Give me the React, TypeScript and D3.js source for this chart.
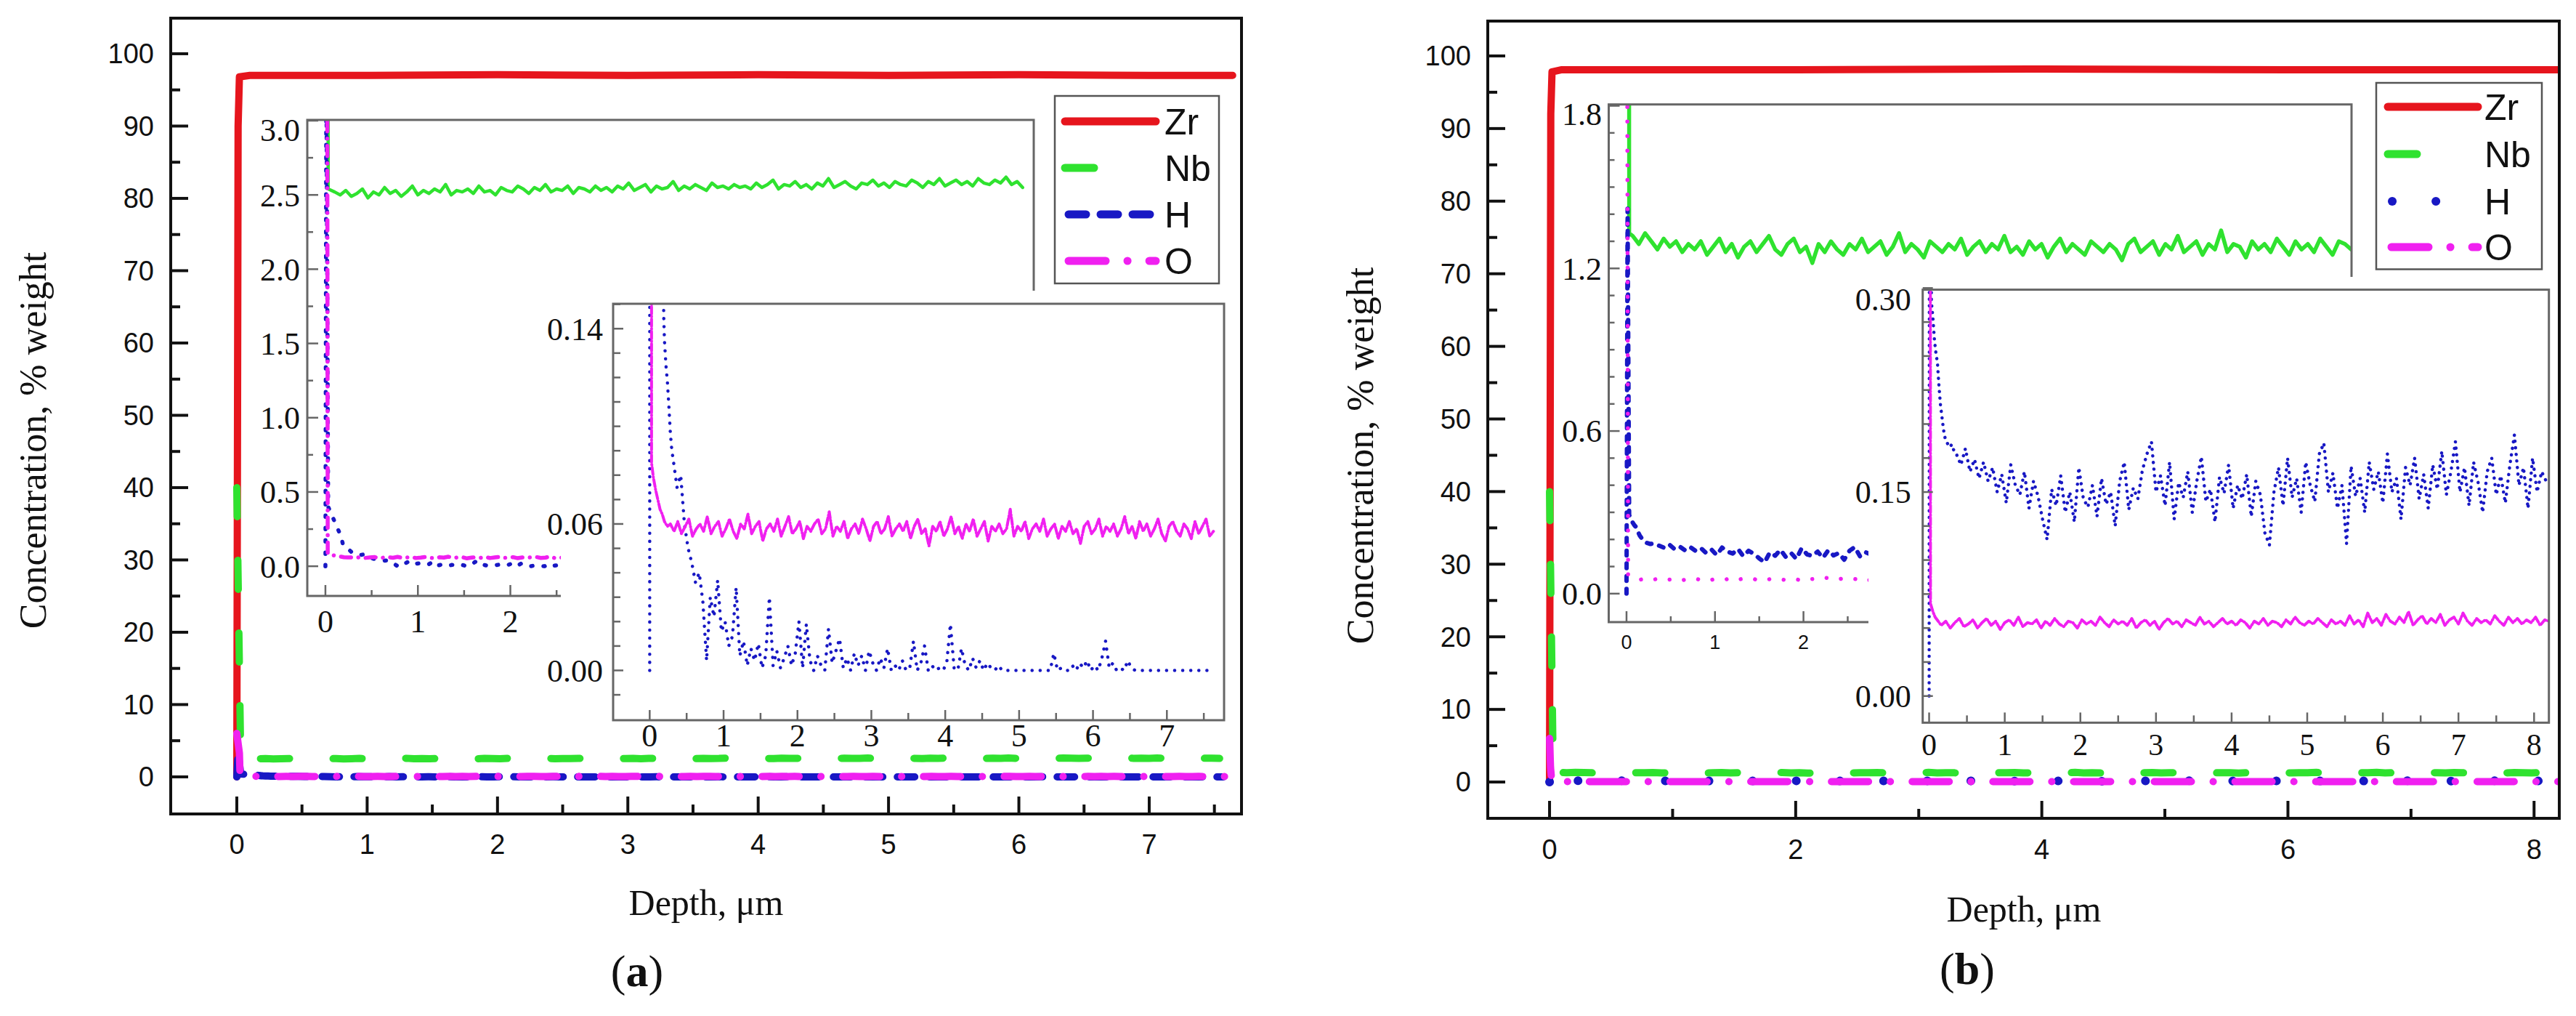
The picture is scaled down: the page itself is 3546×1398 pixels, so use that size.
import React from 'react';
import * as d3 from 'd3';

type Pt = [number, number];

const RED = '#e6151d';
const GREEN = '#2fe22f';
const BLUE = '#1818c4';
const MAGENTA = '#f020f0';
const SANS = '"Liberation Sans", Arial, Helvetica, sans-serif';
const SERIF = '"Liberation Serif", "Times New Roman", Times, serif';

const elements = ['Zr', 'Nb', 'H', 'O'];

// depth profile = a few hand-read points near the surface + values read at a fixed depth step
const series = (head: Pt[], start: number, step: number, vals: number[]): Pt[] => [
  ...head,
  ...vals.map((v, i): Pt => [start + i * step, v]),
];

// ---------- sample (a) ----------
const zrA: Pt[] = [
  [0, 0], [0.01, 90], [0.02, 96.8], [0.1, 97.0], [1, 97.0], [2, 97.1], [3, 97.0],
  [4, 97.1], [5, 97.0], [6, 97.1], [7, 97.0], [7.64, 97.0],
];
const nbHeadA: Pt[] = [[0, 40], [0.03, 2.54]];
const nbValsA = [ // from 0.10 um, step 0.06 um
  2.52, 2.50, 2.53, 2.49, 2.51, 2.54, 2.48, 2.52, 2.50, 2.55, 2.51, 2.53, 2.49, 2.52, 2.56, 2.50,
  2.53, 2.51, 2.54, 2.52, 2.57, 2.50, 2.53, 2.52,
  2.54, 2.51, 2.56, 2.52, 2.53, 2.50, 2.55, 2.53, 2.52, 2.56, 2.54, 2.51, 2.55, 2.53, 2.57, 2.52,
  2.54, 2.53, 2.56, 2.51, 2.55, 2.54, 2.52, 2.56, 2.53,
  2.55, 2.52, 2.56, 2.54, 2.58, 2.53, 2.55, 2.57, 2.52, 2.56, 2.54, 2.55, 2.59, 2.53, 2.56, 2.54,
  2.57, 2.55, 2.53, 2.58, 2.55, 2.56, 2.54, 2.57, 2.55,
  2.56, 2.54, 2.58, 2.55, 2.57, 2.60, 2.54, 2.57, 2.56, 2.59, 2.55, 2.57, 2.54, 2.58, 2.56, 2.61,
  2.55, 2.57, 2.59, 2.56, 2.54, 2.58, 2.57, 2.60, 2.56,
  2.58, 2.55, 2.59, 2.57, 2.56, 2.60, 2.58, 2.55, 2.59, 2.57, 2.61, 2.56, 2.58, 2.60, 2.57, 2.59,
  2.56, 2.61, 2.58, 2.57, 2.60, 2.58, 2.62, 2.57, 2.59, 2.55,
];
const hHeadA: Pt[] = [
  [0, 0], [0.01, 3.4], [0.03, 0.4], [0.17, 0.2], [0.19, 0.145], [0.2, 0.135], [0.22, 0.125],
  [0.24, 0.118], [0.26, 0.108], [0.28, 0.097], [0.3, 0.09],
];
const hValsA = [ // from 0.32 um, step 0.05 um
  0.086, 0.075, 0.080, 0.060, 0.050, 0.044, 0.036, 0.040, 0.028, 0.004,
  0.030, 0.022, 0.037, 0.016, 0.020, 0.010, 0.014, 0.034, 0.006, 0.012,
  0.002, 0.009, 0.004, 0.011, 0.001, 0.006, 0.030, 0.002, 0.008, 0.001,
  0.005, 0.010, 0.002, 0.007, 0.020, 0.001, 0.019, 0.004, 0.000, 0.006,
  0.002, 0.000, 0.017, 0.003, 0.008, 0.013, 0.001, 0.005, 0.000, 0.007,
  0.002, 0.006, 0.000, 0.008, 0.003, 0.000, 0.005, 0.001, 0.009, 0.000,
  0.002, 0.000, 0.004, 0.000, 0.001, 0.012, 0.000, 0.003, 0.010, 0.000,
  0.002, 0.000, 0.001, 0.000, 0.003, 0.019, 0.001, 0.000, 0.009, 0.002,
  0.000, 0.005, 0.001, 0.004, 0.000, 0.003, 0.001, 0.000, 0.002, 0.000,
  0, 0, 0, 0, 0, 0, 0, 0, 0, 0,
  0.000, 0.000, 0.000, 0.007, 0.000, 0.001, 0.000, 0.000, 0.002, 0.000,
  0.003, 0.001, 0.004, 0.000, 0.002, 0.000, 0.005, 0.012, 0.001, 0.003,
  0.000, 0.001, 0.000, 0.004, 0.001, 0.000, 0.000, 0.000, 0.000, 0.000,
  0, 0, 0, 0, 0, 0, 0, 0, 0, 0,
  0, 0, 0, 0, 0, 0,
];
const oHeadA: Pt[] = [
  [0, 6], [0.02, 3.3], [0.025, 0.085], [0.05, 0.079], [0.08, 0.074], [0.11, 0.07], [0.14, 0.066],
  [0.17, 0.064], [0.2, 0.061], [0.24, 0.059],
];
const oValsA = [ // from 0.28 um, step 0.05 um
  0.060, 0.057, 0.061, 0.056, 0.059, 0.062, 0.055, 0.058, 0.060, 0.057,
  0.063, 0.056, 0.059, 0.061, 0.055, 0.058, 0.062, 0.057, 0.054, 0.060,
  0.058, 0.064, 0.056, 0.059, 0.061, 0.053, 0.058, 0.060, 0.057, 0.062,
  0.055, 0.059, 0.063, 0.056, 0.058, 0.061, 0.054, 0.059, 0.057, 0.060,
  0.062, 0.056, 0.058, 0.065, 0.055, 0.059, 0.057, 0.061, 0.054, 0.058,
  0.060, 0.056, 0.062, 0.058, 0.053, 0.059, 0.061, 0.056, 0.058, 0.063,
  0.055, 0.058, 0.060, 0.057, 0.061, 0.054, 0.059, 0.062, 0.056, 0.058,
  0.051, 0.059, 0.057, 0.061, 0.055, 0.058, 0.063, 0.056, 0.059, 0.054,
  0.060, 0.057, 0.062, 0.055, 0.058, 0.061, 0.053, 0.059, 0.057, 0.060,
  0.056, 0.058, 0.066, 0.055, 0.059, 0.057, 0.061, 0.054, 0.058, 0.060,
  0.057, 0.062, 0.055, 0.058, 0.060, 0.054, 0.059, 0.057, 0.061, 0.056,
  0.058, 0.052, 0.059, 0.061, 0.056, 0.058, 0.062, 0.055, 0.059, 0.057,
  0.060, 0.055, 0.058, 0.063, 0.056, 0.059, 0.054, 0.061, 0.057, 0.060,
  0.055, 0.058, 0.062, 0.056, 0.053, 0.059, 0.061, 0.057, 0.055, 0.060,
  0.058, 0.054, 0.061, 0.056, 0.059, 0.062, 0.055, 0.057,
];

// ---------- sample (b) ----------
const zrB: Pt[] = [
  [0, 0], [0.01, 92], [0.02, 97.8], [0.1, 98.1], [2, 98.1], [4, 98.2], [6, 98.1], [8.2, 98.1],
];
const nbHeadB: Pt[] = [[0, 40], [0.03, 1.33]];
const nbValsB = [ // from 0.07 um, step 0.07 um
  1.32, 1.29, 1.33, 1.30, 1.27, 1.31, 1.28, 1.30, 1.26, 1.29,
  1.27, 1.30, 1.25, 1.28, 1.31, 1.26, 1.29, 1.24, 1.28, 1.30,
  1.26, 1.29, 1.32, 1.27, 1.25, 1.29, 1.31, 1.26, 1.28, 1.22,
  1.29, 1.26, 1.30, 1.27, 1.25, 1.29, 1.27, 1.31, 1.26, 1.28,
  1.30, 1.25, 1.28, 1.33, 1.26, 1.29, 1.27, 1.24, 1.30, 1.28,
  1.26, 1.29, 1.27, 1.31, 1.25, 1.28, 1.30, 1.26, 1.29, 1.27,
  1.32, 1.26, 1.28, 1.25, 1.30, 1.27, 1.29, 1.24, 1.28, 1.31,
  1.26, 1.29, 1.27, 1.25, 1.30, 1.28, 1.26, 1.29, 1.27, 1.23,
  1.29, 1.31, 1.26, 1.28, 1.30, 1.25, 1.29, 1.27, 1.32, 1.26,
  1.28, 1.30, 1.25, 1.29, 1.27, 1.34, 1.26, 1.29, 1.28, 1.24,
  1.30, 1.27, 1.29, 1.26, 1.31, 1.28, 1.25, 1.30, 1.27, 1.29,
  1.26, 1.31, 1.28, 1.25, 1.30, 1.29, 1.27,
];
const hHeadB: Pt[] = [
  [0, 0], [0.012, 1.42], [0.03, 0.29], [0.05, 0.278], [0.07, 0.262], [0.09, 0.252], [0.11, 0.245],
  [0.13, 0.228], [0.15, 0.214], [0.17, 0.205], [0.19, 0.196], [0.21, 0.19], [0.24, 0.186],
  [0.27, 0.183], [0.3, 0.185], [0.33, 0.18],
];
const hValsB = [ // from 0.36 um, step 0.06 um
  0.178, 0.170, 0.182, 0.165, 0.174, 0.160, 0.172, 0.158, 0.168, 0.150,
  0.163, 0.142, 0.170, 0.155, 0.148, 0.165, 0.138, 0.158, 0.147, 0.130,
  0.115, 0.152, 0.140, 0.162, 0.135, 0.150, 0.128, 0.168, 0.145, 0.139,
  0.155, 0.132, 0.160, 0.141, 0.150, 0.125, 0.158, 0.172, 0.137, 0.153,
  0.145, 0.166, 0.178, 0.187, 0.150, 0.162, 0.140, 0.172, 0.130, 0.157,
  0.146, 0.165, 0.135, 0.158, 0.176, 0.143, 0.152, 0.128, 0.161, 0.149,
  0.170, 0.138, 0.155, 0.145, 0.163, 0.132, 0.158, 0.148, 0.120, 0.111,
  0.150, 0.168, 0.140, 0.175, 0.146, 0.160, 0.135, 0.172, 0.155, 0.143,
  0.178, 0.186, 0.150, 0.164, 0.138, 0.155, 0.112, 0.169, 0.147, 0.160,
  0.135, 0.172, 0.152, 0.165, 0.142, 0.178, 0.150, 0.160, 0.130, 0.168,
  0.155, 0.175, 0.145, 0.163, 0.138, 0.170, 0.152, 0.180, 0.148, 0.165,
  0.187, 0.150, 0.168, 0.140, 0.172, 0.157, 0.135, 0.165, 0.175, 0.148,
  0.162, 0.142, 0.170, 0.192, 0.155, 0.168, 0.138, 0.175, 0.150, 0.165,
  0.158,
];
const oHeadB: Pt[] = [
  [0, 6], [0.008, 2.0], [0.018, 0.068], [0.05, 0.062], [0.08, 0.058], [0.12, 0.055],
];
const oValsB = [ // from 0.16 um, step 0.06 um
  0.052, 0.055, 0.050, 0.054, 0.057, 0.051, 0.053, 0.056, 0.050, 0.054,
  0.057, 0.052, 0.055, 0.049, 0.054, 0.056, 0.052, 0.058, 0.051, 0.054,
  0.053, 0.056, 0.050, 0.055, 0.052, 0.057, 0.053, 0.051, 0.055, 0.054,
  0.050, 0.056, 0.053, 0.055, 0.052, 0.058, 0.054, 0.051, 0.056, 0.053,
  0.055, 0.052, 0.057, 0.050, 0.054, 0.056, 0.052, 0.055, 0.049, 0.054,
  0.057, 0.053, 0.055, 0.051, 0.056, 0.054, 0.052, 0.058, 0.053, 0.055,
  0.051, 0.054, 0.057, 0.053, 0.055, 0.052, 0.056, 0.054, 0.050, 0.055,
  0.053, 0.057, 0.052, 0.055, 0.054, 0.051, 0.056, 0.053, 0.058, 0.054,
  0.052, 0.055, 0.053, 0.057, 0.054, 0.051, 0.056, 0.053, 0.055, 0.052,
  0.059, 0.053, 0.056, 0.051, 0.061, 0.054, 0.057, 0.052, 0.060, 0.055,
  0.053, 0.058, 0.054, 0.062, 0.052, 0.056, 0.059, 0.053, 0.057, 0.054,
  0.060, 0.052, 0.056, 0.058, 0.053, 0.061, 0.055, 0.052, 0.057, 0.054,
  0.056, 0.053, 0.059, 0.055, 0.052, 0.058, 0.054, 0.057, 0.053, 0.056,
  0.054, 0.058, 0.052, 0.056, 0.055,
];

const nbA = series(nbHeadA, 0.1, 0.06, nbValsA);
const hA = series(hHeadA, 0.32, 0.05, hValsA);
const oA = series(oHeadA, 0.28, 0.05, oValsA);
const nbB = series(nbHeadB, 0.07, 0.07, nbValsB);
const hB = series(hHeadB, 0.36, 0.06, hValsB);
const oB = series(oHeadB, 0.16, 0.06, oValsB);

// ---------- drawing ----------
interface LineSpec { pts: Pt[]; color: string; width: number; dash?: string }

interface BoxSpec {
  id: string;
  x0: number; x1: number; y0: number; y1: number;
  xDom: [number, number]; yDom: [number, number];
  xMajor: number[]; xMinor: number[]; yMajor: number[]; yMinor: number[];
  xFmt: (v: number) => string; yFmt: (v: number) => string;
  color: string; frameW: number; tickW: number; major: number; minor: number;
  yFont: string; ySize: number; yGap: number;
  xFont: string; xSize: number; xGap: number;
  cover?: [number, number, number, number];
}

const fmtInt = d3.format('d');
const fmt1 = d3.format('.1f');
const fmt2 = d3.format('.2f');

function Box({ s, lines }: { s: BoxSpec; lines: LineSpec[] }) {
  const xs = d3.scaleLinear().domain(s.xDom).range([s.x0, s.x1]);
  const ys = d3.scaleLinear().domain(s.yDom).range([s.y1, s.y0]);
  const line = d3.line<Pt>().x(d => xs(d[0])).y(d => ys(d[1]));
  const inX = (v: number) => xs(v) >= s.x0 - 3 && xs(v) <= s.x1 + 3;
  const inY = (v: number) => ys(v) >= s.y0 - 3 && ys(v) <= s.y1 + 3;
  return (
    <g>
      <clipPath id={s.id}>
        <rect x={s.x0} y={s.y0} width={s.x1 - s.x0} height={s.y1 - s.y0} />
      </clipPath>
      {s.cover && (
        <rect x={s.cover[0]} y={s.cover[1]} width={s.cover[2] - s.cover[0]}
          height={s.cover[3] - s.cover[1]} fill="#fff" />
      )}
      <g clipPath={`url(#${s.id})`}>
        {lines.map((l, i) => (
          <path key={i} d={line(l.pts) ?? ''} fill="none" stroke={l.color} strokeWidth={l.width}
            strokeDasharray={l.dash} strokeLinecap="round" strokeLinejoin="round" />
        ))}
      </g>
      <rect x={s.x0} y={s.y0} width={s.x1 - s.x0} height={s.y1 - s.y0} fill="none"
        stroke={s.color} strokeWidth={s.frameW} />
      <g stroke={s.color} strokeWidth={s.tickW}>
        {s.yMajor.filter(inY).map(v => (
          <line key={`ym${v}`} x1={s.x0} x2={s.x0 + s.major} y1={ys(v)} y2={ys(v)} />
        ))}
        {s.yMinor.filter(inY).map(v => (
          <line key={`yn${v}`} x1={s.x0} x2={s.x0 + s.minor} y1={ys(v)} y2={ys(v)} />
        ))}
        {s.xMajor.filter(inX).map(v => (
          <line key={`xm${v}`} x1={xs(v)} x2={xs(v)} y1={s.y1} y2={s.y1 - s.major} />
        ))}
        {s.xMinor.filter(inX).map(v => (
          <line key={`xn${v}`} x1={xs(v)} x2={xs(v)} y1={s.y1} y2={s.y1 - s.minor} />
        ))}
      </g>
      <g fontFamily={s.yFont} fontSize={s.ySize} textAnchor="end" fill="#111">
        {s.yMajor.filter(inY).map(v => (
          <text key={v} x={s.x0 - s.yGap} y={Math.max(ys(v), s.y0 + s.ySize * 0.3)} dy="0.35em">
            {s.yFmt(v)}
          </text>
        ))}
      </g>
      <g fontFamily={s.xFont} fontSize={s.xSize} textAnchor="middle" fill="#111">
        {s.xMajor.filter(inX).map(v => (
          <text key={v} x={xs(v)} y={s.y1 + s.xGap}>{s.xFmt(v)}</text>
        ))}
      </g>
    </g>
  );
}

interface LegendRow { y: number; color: string; width: number; dash?: string; from?: number }

function Legend({ box, sx, tx, rows }: {
  box: [number, number, number, number]; sx: [number, number]; tx: number; rows: LegendRow[];
}) {
  return (
    <g>
      <rect x={box[0]} y={box[1]} width={box[2] - box[0]} height={box[3] - box[1]} fill="#fff"
        stroke="#555" strokeWidth={2.5} />
      {rows.map((r, i) => (
        <g key={elements[i]}>
          <line x1={sx[0] + (r.from ?? 0)} x2={sx[1]} y1={r.y} y2={r.y} stroke={r.color}
            strokeWidth={r.width} strokeDasharray={r.dash} strokeLinecap="round" />
          <text x={tx} y={r.y + 18} fontFamily={SANS} fontSize={50} fill="#111">{elements[i]}</text>
        </g>
      ))}
    </g>
  );
}

const mainStyle = {
  color: '#111', frameW: 4, tickW: 4, major: 24, minor: 13,
  yFont: SANS, ySize: 38, yGap: 23, xFont: SANS, xSize: 38,
};
const insetStyle = {
  color: '#666', frameW: 3, tickW: 2.5, major: 15, minor: 8,
  yFont: SERIF, ySize: 44, xFont: SERIF, xSize: 44,
};

const yMainMajor = d3.range(0, 101, 10);
const yMainMinor = d3.range(5, 100, 10);

const mainA: BoxSpec = {
  id: 'clipMainA', x0: 235, x1: 1709, y0: 25, y1: 1120,
  xDom: [-0.507, 7.708], yDom: [-5.13, 104.92],
  xMajor: d3.range(0, 8), xMinor: d3.range(0, 8).map(v => v + 0.5),
  yMajor: yMainMajor, yMinor: yMainMinor, xFmt: fmtInt, yFmt: fmtInt,
  ...mainStyle, xGap: 55,
};
const in1A: BoxSpec = {
  id: 'clipIn1A', x0: 423, x1: 1423, y0: 165, y1: 820,
  xDom: [-0.196, 7.66], yDom: [-0.2, 3.005],
  xMajor: d3.range(0, 8), xMinor: d3.range(0, 8).map(v => v + 0.5),
  yMajor: d3.range(0, 7).map(i => i * 0.5), yMinor: d3.range(0, 6).map(i => 0.25 + i * 0.5),
  xFmt: fmtInt, yFmt: fmt1, ...insetStyle, yGap: 10, xGap: 50,
  cover: [423, 165, 1423, 820],
};
const in2A: BoxSpec = {
  id: 'clipIn2A', x0: 844, x1: 1685, y0: 418, y1: 991,
  xDom: [-0.495, 7.774], yDom: [-0.0204, 0.1502],
  xMajor: d3.range(0, 8), xMinor: d3.range(0, 8).map(v => v + 0.5),
  yMajor: [0, 0.06, 0.14],
  yMinor: d3.range(-1, 16).filter(i => ![0, 6, 14].includes(i)).map(i => i / 100),
  xFmt: fmtInt, yFmt: fmt2, ...insetStyle, major: 14, minor: 10, yGap: 14, xGap: 36,
  cover: [772, 400, 1693, 1000],
};

const mainB: BoxSpec = {
  id: 'clipMainB', x0: 2048, x1: 3523, y0: 29, y1: 1126,
  xDom: [-0.502, 8.205], yDom: [-5.0, 104.8],
  xMajor: [0, 2, 4, 6, 8], xMinor: [1, 3, 5, 7],
  yMajor: yMainMajor, yMinor: yMainMinor, xFmt: fmtInt, yFmt: fmtInt,
  ...mainStyle, xGap: 56,
};
const in1B: BoxSpec = {
  id: 'clipIn1B', x0: 2214.5, x1: 3237, y0: 143.7, y1: 856,
  xDom: [-0.201, 8.194], yDom: [-0.105, 1.805],
  xMajor: d3.range(0, 9), xMinor: d3.range(0, 8).map(v => v + 0.5),
  yMajor: [0, 0.6, 1.2, 1.8],
  yMinor: d3.range(1, 18).filter(i => i % 6 !== 0).map(i => i / 10),
  xFmt: fmtInt, yFmt: fmt1, ...insetStyle, yGap: 9.5, xFont: SANS, xSize: 27, xGap: 37,
  cover: [2214.5, 143.7, 3237, 856],
};
const in2B: BoxSpec = {
  id: 'clipIn2B', x0: 2646.7, x1: 3508.7, y0: 398.6, y1: 994.4,
  xDom: [-0.085, 8.196], yDom: [-0.0196, 0.2988],
  xMajor: d3.range(0, 9), xMinor: d3.range(0, 8).map(v => v + 0.5),
  yMajor: [0, 0.15, 0.3],
  yMinor: d3.range(1, 12).filter(i => i !== 6).map(i => i * 0.025),
  xFmt: fmtInt, yFmt: fmt2, ...insetStyle, major: 14, minor: 10, yGap: 16, xSize: 42, xGap: 44.6,
  cover: [2572, 381, 3514, 1002],
};

const dashNb = '40,60';
const dashO = '51,30,0.1,30';

function Titles({ yl, xl, pl, tag }: {
  yl: [number, number]; xl: [number, number]; pl: [number, number]; tag: string;
}) {
  return (
    <g fill="#111" fontFamily={SERIF}>
      <text transform={`translate(${yl[0]},${yl[1]}) rotate(-90)`} textAnchor="middle"
        fontSize={52}>Concentration, % weight</text>
      <text x={xl[0]} y={xl[1]} textAnchor="middle" fontSize={50}>Depth, μm</text>
      <text x={pl[0]} y={pl[1]} textAnchor="middle" fontSize={62}>
        (<tspan fontWeight="bold">{tag}</tspan>)
      </text>
    </g>
  );
}

export default function App() {
  return (
    <svg width={3546} height={1398} viewBox="0 0 3546 1398"
      style={{ position: 'absolute', left: 0, top: 0, background: '#fff' }}>
      <rect width={3546} height={1398} fill="#fff" />

      {/* panel (a) */}
      <Box s={mainA} lines={[
        { pts: zrA, color: RED, width: 10 },
        { pts: nbA, color: GREEN, width: 10, dash: dashNb },
        { pts: hA, color: BLUE, width: 10, dash: '24,20' },
        { pts: oA, color: MAGENTA, width: 10, dash: dashO },
      ]} />
      <Legend box={[1452, 132, 1678, 390]} sx={[1466, 1591]} tx={1603} rows={[
        { y: 167, color: RED, width: 11 },
        { y: 231, color: GREEN, width: 11, dash: '40,300' },
        { y: 295, color: BLUE, width: 11, dash: '24,20', from: 5 },
        { y: 359, color: MAGENTA, width: 11, dash: dashO, from: 5 },
      ]} />
      <Box s={in1A} lines={[
        { pts: nbA, color: GREEN, width: 4.5 },
        { pts: hA, color: BLUE, width: 5.5, dash: '2,15' },
        { pts: oA, color: MAGENTA, width: 5.5, dash: '14,10,0.1,10' },
      ]} />
      <Box s={in2A} lines={[
        { pts: hA, color: BLUE, width: 4.5, dash: '0.1,11' },
        { pts: oA, color: MAGENTA, width: 4, dash: '10,3,1,3' },
      ]} />
      <Titles yl={[63, 606]} xl={[972, 1259]} pl={[877, 1357]} tag="a" />

      {/* panel (b) */}
      <Box s={mainB} lines={[
        { pts: zrB, color: RED, width: 10 },
        { pts: nbB, color: GREEN, width: 10, dash: dashNb },
        { pts: hB, color: BLUE, width: 12, dash: '0.1,60' },
        { pts: oB, color: MAGENTA, width: 10, dash: dashO },
      ]} />
      <Legend box={[3271, 114, 3499, 370.5]} sx={[3287, 3411]} tx={3420} rows={[
        { y: 147, color: RED, width: 11 },
        { y: 212, color: GREEN, width: 11, dash: '40,300' },
        { y: 277, color: BLUE, width: 12, dash: '0.1,60', from: 6 },
        { y: 340, color: MAGENTA, width: 11, dash: dashO, from: 5 },
      ]} />
      <Box s={in1B} lines={[
        { pts: nbB, color: GREEN, width: 5.5 },
        { pts: hB, color: BLUE, width: 6, dash: '6.5,11' },
        { pts: oB, color: MAGENTA, width: 5.5, dash: '0.1,20' },
      ]} />
      <Box s={in2B} lines={[
        { pts: hB, color: BLUE, width: 4.5, dash: '0.1,9' },
        { pts: oB, color: MAGENTA, width: 4, dash: '10,3,1,3' },
      ]} />
      <Titles yl={[1890, 627]} xl={[2786, 1268]} pl={[2708, 1354]} tag="b" />
    </svg>
  );
}
